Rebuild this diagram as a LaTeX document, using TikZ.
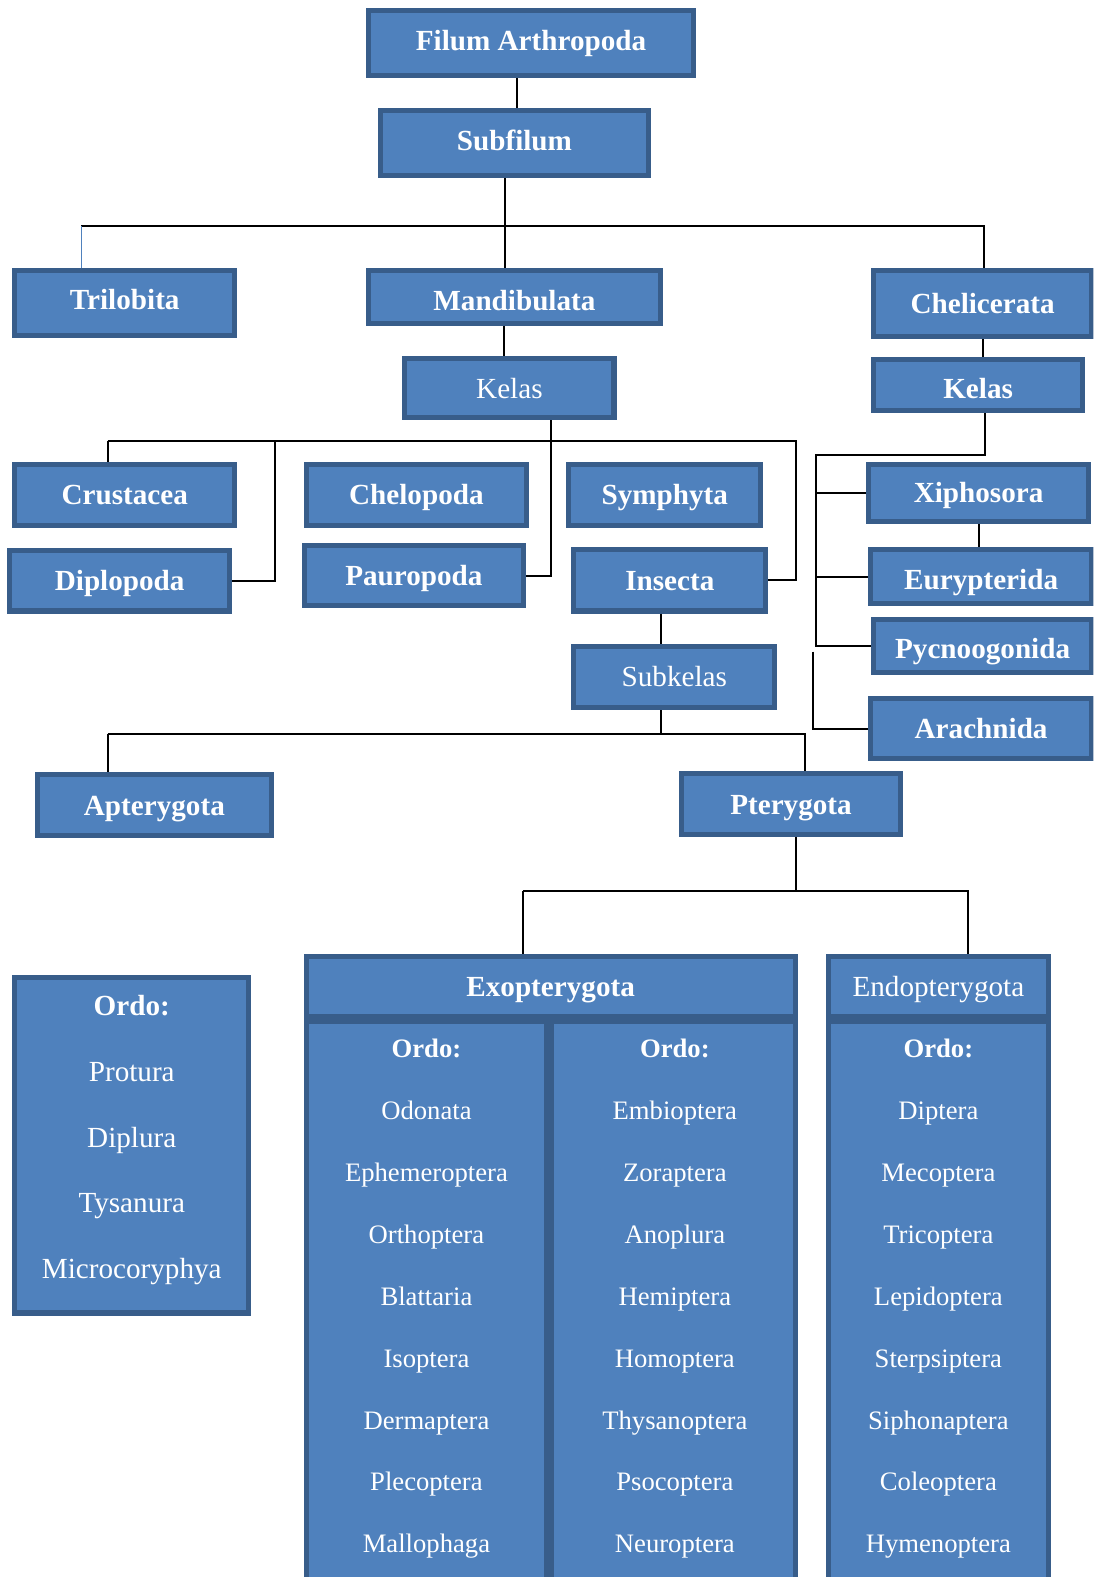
\documentclass[tikz,border=0pt]{standalone}
\usepackage{fontspec}
\setmainfont{Liberation Serif}
\usepackage{xcolor}
\usetikzlibrary{positioning}
\definecolor{boxfill}{HTML}{4F81BD}
\definecolor{boxline}{HTML}{385D8A}

\begin{document}
\begin{tikzpicture}[
            x=1pt, y=-1pt,
            box/.style={rectangle, draw=boxline, fill=boxfill, line width=5pt, inner sep=0pt,
                text height=20pt, text depth=0pt,
                text=white, font=\bfseries\fontsize{29}{33}\selectfont},
            plain/.style={font=\fontsize{29}{33}\selectfont},
            item/.style={text=white, inner sep=0pt, text height=20pt, text depth=0pt,
                font=\fontsize{29}{33}\selectfont},
            head/.style={item, font=\bfseries\fontsize{29}{33}\selectfont},
            colitem/.style={item, text height=18.5pt, text depth=0pt, font=\fontsize{26.5}{30}\selectfont},
            colhead/.style={colitem, font=\bfseries\fontsize{26.5}{30}\selectfont},
            link/.style={draw=black, line width=2pt},
        ]
            \useasboundingbox (0,0) rectangle (1087,1568);
            \clip (0,0) rectangle (1087,1568);

            \node[box, minimum width=323pt, minimum height=65pt, text height=14pt] (filum) at (528,43) {Filum Arthropoda};
            \node[box, minimum width=266pt, minimum height=65pt, text height=16pt] (subfilum) at (511.5,142) {Subfilum};
            \node[box, minimum width=219pt, minimum height=65pt, text height=14pt] (trilobita) at (124,301) {Trilobita};
            \node[box, minimum width=290pt, minimum height=53pt, text height=28pt] (mandibulata) at (511.5,295) {Mandibulata};
            \node[box, minimum width=217pt, minimum height=66pt] (chelicerata) at (977,302) {Chelicerata};
            \node[box, plain, minimum width=208pt, minimum height=59pt] (kelasM) at (506.5,386) {Kelas};
            \node[box, minimum width=208pt, minimum height=51pt, text height=26pt] (kelasC) at (972.5,383) {Kelas};
            \node[box, minimum width=219pt, minimum height=61pt] (crustacea) at (124,492) {Crustacea};
            \node[box, minimum width=219pt, minimum height=61pt] (chelopoda) at (414,492) {Chelopoda};
            \node[box, minimum width=191pt, minimum height=61pt] (symphyta) at (661,492) {Symphyta};
            \node[box, minimum width=219pt, minimum height=60pt] (diplopoda) at (119,577.5) {Diplopoda};
            \node[box, minimum width=218pt, minimum height=60pt] (pauropoda) at (411.5,572.5) {Pauropoda};
            \node[box, minimum width=191pt, minimum height=61pt] (insecta) at (666,577) {Insecta};
            \node[box, plain, minimum width=200pt, minimum height=61pt] (subkelas) at (670.5,673) {Subkelas};
            \node[box, minimum width=219pt, minimum height=57pt] (xiphosora) at (973,490) {Xiphosora};
            \node[box, minimum width=219pt, minimum height=54pt, text height=26pt] (eurypterida) at (975.5,573.5) {Eurypterida};
            \node[box, minimum width=217pt, minimum height=53pt, text height=26pt] (pycnoogonida) at (977,642) {Pycnoogonida};
            \node[box, minimum width=219pt, minimum height=60pt] (arachnida) at (975.5,724.5) {Arachnida};
            \node[box, minimum width=232pt, minimum height=60pt] (apterygota) at (153.5,800.5) {Apterygota};
            \node[box, minimum width=218pt, minimum height=60pt] (pterygota) at (786.5,799.5) {Pterygota};

            \node[box, minimum width=233pt, minimum height=334pt] (ordoA) at (131,1138.5) {};
            \node[box, minimum width=486pt, minimum height=59pt] (exo) at (547.5,981) {Exopterygota};
            \node[box, minimum width=239pt, minimum height=582pt] (exoA) at (424,1306.5) {};
            \node[box, minimum width=242pt, minimum height=582pt] (exoB) at (669.5,1306.5) {};
            \node[box, plain, minimum width=219pt, minimum height=59pt] (endo) at (933,981) {Endopterygota};
            \node[box, minimum width=219pt, minimum height=582pt] (endoA) at (933,1306.5) {};

            \node[head] (ordoA-0) at (131,1000) {Ordo:};
            \foreach \name [count=\i] in {Protura, Diplura, Tysanura, Microcoryphya}
                \node[item] (ordoA-\i) at (131,1000+65.3*\i) {\name};

            \node[colhead] (exoA-0) at (424,1042) {Ordo:};
            \node[colhead] (exoB-0) at (671,1042) {Ordo:};
            \node[colhead] (endoA-0) at (933,1042) {Ordo:};
            \foreach \name [count=\i] in {Odonata, Ephemeroptera, Orthoptera, Blattaria,
                    Isoptera, Dermaptera, Plecoptera, Mallophaga}
                \node[colitem] (exoA-\i) at (424,1042+61.6*\i) {\name};
            \foreach \name [count=\i] in {Embioptera, Zoraptera, Anoplura, Hemiptera,
                    Homoptera, Thysanoptera, Psocoptera, Neuroptera}
                \node[colitem] (exoB-\i) at (671,1042+61.6*\i) {\name};
            \foreach \name [count=\i] in {Diptera, Mecoptera, Tricoptera, Lepidoptera,
                    Sterpsiptera, Siphonaptera, Coleoptera, Hymenoptera}
                \node[colitem] (endoA-\i) at (933,1042+61.6*\i) {\name};

            \coordinate (a1) at (502,225);
            \coordinate (a2) at (81,225);
            \coordinate (a3) at (978,225);
            \coordinate (a4) at (514,100);
            \coordinate (a5) at (501,330);
            \draw[link] (filum.south -| a4) -- (subfilum.north -| a4);
            \draw[link] (subfilum.south -| a1) -- (mandibulata.north -| a1);
            \draw[link] (a2) -- (a3) -- (chelicerata.north -| a3);
            \draw[link, draw=boxfill, line width=1.5pt] (a2) -- (trilobita.north -| a2);
            \draw[link] (mandibulata.south -| a5) -- (kelasM.north -| a5);
            \draw[link] (chelicerata.south) -- (chelicerata.south |- kelasC.north);

            \coordinate (b1) at (548,438);
            \coordinate (b2) at (107,438);
            \coordinate (b3) at (273,438);
            \coordinate (b4) at (791,438);
            \draw[link] (kelasM.south -| b1) -- (pauropoda.east -| b1) -- (pauropoda.east);
            \draw[link] (b2) -- (b4) -- (insecta.east -| b4) -- (insecta.east);
            \draw[link] (b2) -- (crustacea.north -| b2);
            \draw[link] (b3) -- (diplopoda.east -| b3) -- (diplopoda.east);

            \coordinate (c1) at (979,452);
            \coordinate (c2) at (811,452);
            \coordinate (c3) at (808,648);
            \draw[link] (kelasC.south -| c1) -- (c1) -- (c2) -- (pycnoogonida.west -| c2) -- (pycnoogonida.west);
            \draw[link] (xiphosora.west -| c2) -- (xiphosora.west);
            \draw[link] (eurypterida.west -| c2) -- (eurypterida.west);
            \draw[link] (c3) -- (arachnida.west -| c3) -- (arachnida.west);
            \draw[link] (xiphosora.south) -- (xiphosora.south |- eurypterida.north);

            \coordinate (d1) at (657,730);
            \coordinate (d2) at (107,730);
            \coordinate (d3) at (800,730);
            \draw[link] (insecta.south -| d1) -- (subkelas.north -| d1);
            \draw[link] (subkelas.south -| d1) -- (d1);
            \draw[link] (d2) -- (d3) -- (pterygota.north -| d3);
            \draw[link] (d2) -- (apterygota.north -| d2);

            \coordinate (e1) at (791,886);
            \coordinate (e2) at (520,886);
            \coordinate (e3) at (962,886);
            \draw[link] (pterygota.south -| e1) -- (e1);
            \draw[link] (e2) -- (e3) -- (endo.north -| e3);
            \draw[link] (e2) -- (exo.north -| e2);
        \end{tikzpicture}
\end{document}
